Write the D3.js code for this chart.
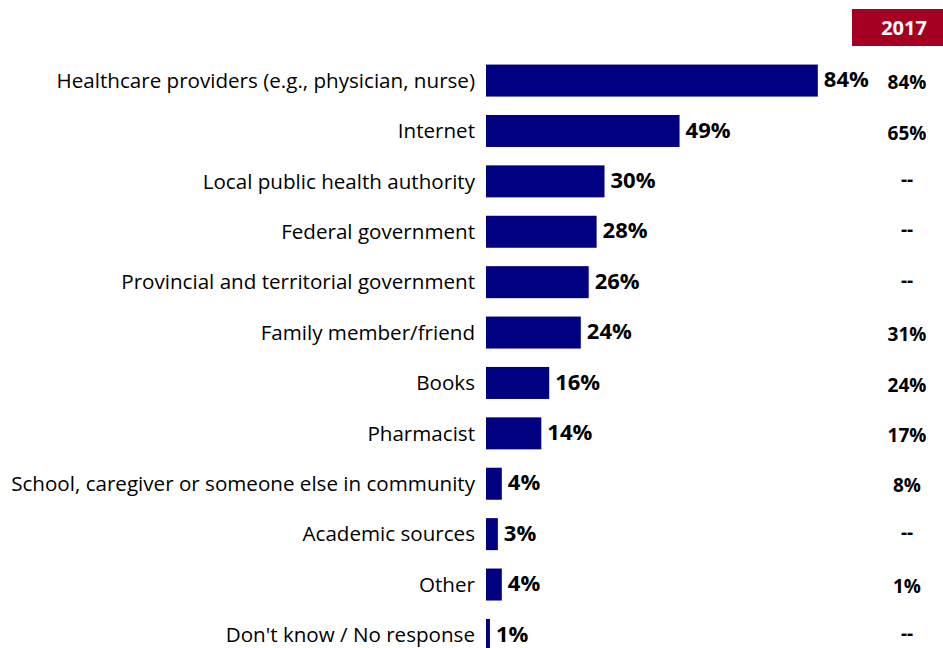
<!DOCTYPE html>
<html><head><meta charset="utf-8">
<script src="https://cdn.jsdelivr.net/npm/d3@7"></script>
<style>body{margin:0;background:#fff;} svg{display:block;}</style>
</head><body>
<svg id="chart" width="943" height="648"></svg>
<script>
const categories = ["Healthcare providers (e.g., physician, nurse)","Internet","Local public health authority","Federal government","Provincial and territorial government","Family member/friend","Books","Pharmacist","School, caregiver or someone else in community","Academic sources","Other","Don't know / No response"];
const values2023 = [84,49,30,28,26,24,16,14,4,3,4,1];
const values2017 = [84,65,null,null,null,31,24,17,8,null,1,null];
const headerLabel = "2017";

const svg = d3.select("#chart");
const font = "'Open Sans', sans-serif";
const x = d3.scaleLinear().domain([0,100]).range([486, 486+395]);
const y = d3.scaleBand().domain(categories).range([55.5, 660]).paddingInner(0.365).paddingOuter(0.18);

svg.selectAll("rect.bar").data(categories).join("rect")
  .attr("class","bar")
  .attr("x", x(0)).attr("y", d=>y(d))
  .attr("width", (d,i)=>x(values2023[i])-x(0))
  .attr("height", y.bandwidth())
  .attr("fill","#000080");

svg.selectAll("text.cat").data(categories).join("text")
  .attr("class","cat")
  .attr("x", 475).attr("y", d=>y(d)+y.bandwidth()/2)
  .attr("dy","0.35em").attr("text-anchor","end")
  .attr("font-family", font).attr("font-size", 20.6).attr("fill","#000")
  .text(d=>d);

svg.selectAll("text.val").data(categories).join("text")
  .attr("class","val")
  .attr("x",(d,i)=>x(values2023[i])+6).attr("y", d=>y(d)+y.bandwidth()/2 - 1)
  .attr("dy","0.35em")
  .attr("font-family", font).attr("font-size", 22).attr("font-weight","bold").attr("fill","#000")
  .text((d,i)=>values2023[i]+"%");

svg.append("rect").attr("x",852).attr("y",9).attr("width",91).attr("height",37).attr("fill","#A50021");
svg.append("text").attr("x",904).attr("y",28).attr("dy","0.35em").attr("text-anchor","middle")
  .attr("font-family", font).attr("font-size",20).attr("font-weight","bold").attr("fill","#fff").text(headerLabel);

svg.selectAll("text.v17").data(categories).join("text")
  .attr("class","v17")
  .attr("x",907).attr("y",(d,i)=>y(d)+y.bandwidth()/2 + (values2017[i]===null? -2 : 2))
  .attr("dy","0.35em").attr("text-anchor","middle")
  .attr("font-family", font).attr("font-size",19).attr("font-weight","bold").attr("fill","#000")
  .text((d,i)=>values2017[i]===null ? "--" : values2017[i]+"%");
</script>
</body></html>
